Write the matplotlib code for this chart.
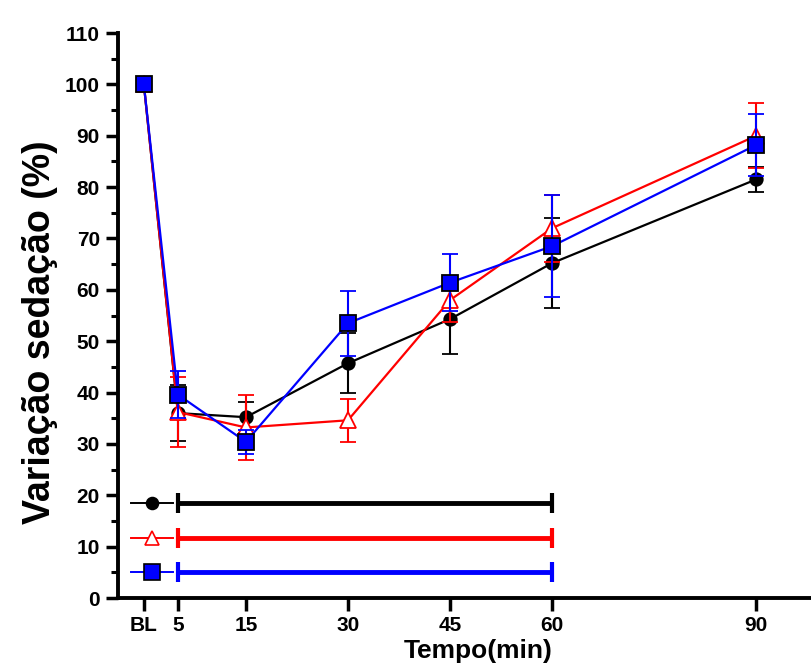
import matplotlib
matplotlib.use("Agg")
import matplotlib.pyplot as plt
from matplotlib.ticker import MultipleLocator

# Time points (min); BL = baseline
times = [0, 5, 15, 30, 45, 60, 90]
tick_labels = ["BL", "5", "15", "30", "45", "60", "90"]

# Mean sedation variation (%) and standard error per group
black_mean = [100, 36.0, 35.2, 45.7, 54.3, 65.2, 81.5]
black_err = [0, 5.5, 3.0, 5.8, 6.8, 8.7, 2.4]

red_mean = [100, 36.2, 33.2, 34.6, 58.0, 72.0, 90.0]
red_err = [0, 6.8, 6.3, 4.2, 4.3, 6.5, 6.3]

blue_mean = [100, 39.6, 30.4, 53.5, 61.4, 68.5, 88.2]
blue_err = [0, 4.6, 2.4, 6.3, 5.6, 9.9, 6.0]

# Significance window (min) and the level of each group's bar
sig_window = [5, 60]
sig_levels = [18.5, 11.7, 5.1]
key_span = [-1.9, 4.3]
key_marker_x = 1.2

series = [
    dict(mean=black_mean, err=black_err, color="black", marker="o",
         ms=9, mfc="black", mec="black"),
    dict(mean=red_mean, err=red_err, color="#ff0000", marker="^",
         ms=11, mfc="white", mec="#ff0000"),
    dict(mean=blue_mean, err=blue_err, color="#0000ff", marker="s",
         ms=11.5, mfc="#0000ff", mec="black"),
]

plt.rcParams["font.family"] = ["Liberation Sans", "DejaVu Sans"]
plt.rcParams["font.weight"] = "bold"

fig = plt.figure(figsize=(8.12, 6.71), dpi=100)
ax = fig.add_axes([118 / 812, 73 / 671, 1 - 118 / 812, (598 - 33) / 671])

for z, s in enumerate(series):
    ax.errorbar(times, s["mean"], yerr=s["err"], color=s["color"],
                lw=1.6, elinewidth=1.5, capsize=6, capthick=1.6,
                marker=s["marker"], ms=s["ms"], mfc=s["mfc"], mec=s["mec"],
                mew=1.3, zorder=3 + z)

# Group keys with their significance bars
for s, lvl in zip(series, sig_levels):
    ax.plot(key_span, [lvl, lvl], color=s["color"], lw=1.4, zorder=3)
    ax.plot([key_marker_x], [lvl], marker=s["marker"], ms=s["ms"] * 0.95,
            mfc=s["mfc"], mec=s["mec"], mew=1.2, ls="none", zorder=4)
    ax.plot(sig_window, [lvl, lvl], color=s["color"], lw=3.5,
            solid_capstyle="butt", zorder=3)
    ax.plot(sig_window, [lvl, lvl], color=s["color"], ls="none",
            marker="|", ms=14, mew=3, zorder=3)

ax.set_xlim(-3.8, 98.2)
ax.set_ylim(0, 110)
ax.set_xticks(times)
ax.set_xticklabels(tick_labels)
ax.yaxis.set_major_locator(MultipleLocator(10))
ax.yaxis.set_minor_locator(MultipleLocator(5))

for side in ("top", "right"):
    ax.spines[side].set_visible(False)
for side in ("left", "bottom"):
    ax.spines[side].set_linewidth(2.8)

ax.tick_params(axis="both", which="major", direction="out", length=9,
               width=2.5, labelsize=15, pad=4)
ax.tick_params(axis="y", which="minor", direction="out", length=5, width=2.2)
for lab in ax.get_xticklabels() + ax.get_yticklabels():
    lab.set_fontweight("bold")

ax.set_ylabel("Variação sedação (%)", fontsize=27, fontweight="bold",
              va="center")
ax.yaxis.set_label_coords((40 - 118) / 694, (598 - 332) / 565)
ax.set_xlabel("Tempo(min)", fontsize=19, fontweight="bold")
ax.xaxis.set_label_coords((478 - 118) / 694, -0.072)

fig.savefig("out.png", dpi=100)
